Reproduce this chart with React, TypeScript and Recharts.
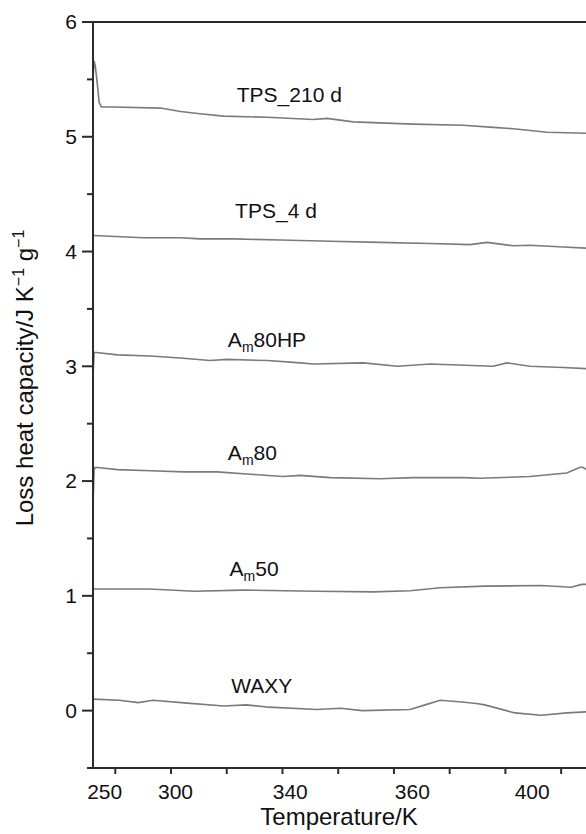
import { LineChart, Line, XAxis, YAxis, ReferenceLine, ReferenceDot } from "recharts";

const FONT = '"Liberation Sans", Arial, Helvetica, sans-serif';
const INK = "#2b2b2b";
const TRACE = "#7a7a7a";

// [temperature, loss heat capacity]
const tps210d = [
  [246.05, 5.55], [246.2, 5.66], [246.4, 5.62], [246.8, 5.45], [247.1, 5.3], [247.5, 5.26],
  [249.6, 5.26], [258.1, 5.25], [261.7, 5.22], [265.2, 5.2], [269.4, 5.18], [277.3, 5.17],
  [285.5, 5.15], [288.0, 5.16], [292.7, 5.13], [303.4, 5.11], [312.4, 5.1], [318.5, 5.08],
  [321.4, 5.07], [327.5, 5.04], [334.5, 5.03], [335, 5.03],
];
const tps4d = [
  [246.1, 4.14], [255.0, 4.12], [261.7, 4.12], [265.2, 4.11], [271.2, 4.11], [279.6, 4.1],
  [288.6, 4.09], [297.5, 4.08], [306.5, 4.07], [313.7, 4.06], [316.7, 4.08], [321.4, 4.05],
  [324.4, 4.055], [330.4, 4.04], [334.5, 4.03], [335, 4.03],
];
const am80hp = [
  [246.05, 2.96], [246.2, 3.12], [246.6, 3.12], [250.4, 3.1], [256.3, 3.09], [262.2, 3.07],
  [267.0, 3.05], [270.1, 3.06], [277.3, 3.05], [283.2, 3.03], [285.5, 3.02], [294.5, 3.03],
  [300.6, 3.0], [306.5, 3.02], [317.8, 3.0], [320.3, 3.03], [324.4, 3.0], [330.4, 2.99],
  [334.5, 2.98], [335, 2.98],
];
const am80 = [
  [246.05, 1.85], [246.2, 2.1], [246.4, 2.12], [250.4, 2.1], [256.3, 2.09], [262.2, 2.08],
  [268.3, 2.08], [274.2, 2.06], [280.1, 2.04], [283.2, 2.05], [288.6, 2.03], [297.5, 2.02],
  [303.4, 2.03], [312.4, 2.03], [315.5, 2.025], [324.4, 2.04], [331.0, 2.07], [333.4, 2.12],
  [333.9, 2.12], [334.5, 2.1], [335, 2.09],
];
const am50 = [
  [246.05, 1.06], [256.1, 1.06], [264.2, 1.04], [272.8, 1.05], [286.2, 1.04], [296.3, 1.035],
  [302.9, 1.045], [308.3, 1.07], [316.3, 1.085], [326.4, 1.09], [331.8, 1.075], [333.7, 1.1],
  [335, 1.1],
];
const waxy = [
  [246.05, 0.1], [250.7, 0.09], [254.1, 0.07], [256.8, 0.09], [262.9, 0.065], [269.5, 0.04],
  [273.5, 0.05], [277.6, 0.03], [286.2, 0.01], [290.4, 0.02], [294.3, 0.0], [302.9, 0.01],
  [305.6, 0.05], [308.3, 0.09], [312.2, 0.075], [315.1, 0.06], [316.3, 0.05], [321.7, -0.02],
  [326.4, -0.04], [331.0, -0.02], [335, -0.01],
];

const traces = [tps210d, tps4d, am80hp, am80, am50, waxy];

// curve tags; {x} is a subscript
const tagText = ["TPS_210 d", "TPS_4 d", "A{m}80HP", "A{m}80", "A{m}50", "WAXY"];
const tagT = [271.8, 271.5, 270.2, 270.2, 270.5, 270.8];
const tagV = [5.3, 4.29, 3.165, 2.18, 1.17, 0.15];

const xMarks = [250, 260, 270, 280, 290, 300, 310, 320, 330];
const xLabelPos = [248.1, 260.8, 281.4, 303.3, 324.8];
const xLabelText = ["250", "300", "340", "360", "400"];
const yTicks = [-0.5, 0, 0.5, 1, 1.5, 2, 2.5, 3, 3.5, 4, 4.5, 5, 5.5, 6];

const toPts = (arr: number[][]) => arr.map(([t, v]) => ({ t, v }));

function XTick({ x, y, payload }: any) {
  const i = xLabelPos.indexOf(payload.value);
  if (i >= 0) {
    return (
      <text x={x} y={y + 31} textAnchor="middle" fontSize={21} fontFamily={FONT} fill="#111">
        {xLabelText[i]}
      </text>
    );
  }
  return <line x1={x} x2={x} y1={y} y2={y + 6} stroke={INK} strokeWidth={2} />;
}

function YTick({ x, y, payload }: any) {
  const major = Number.isInteger(payload.value);
  return (
    <g>
      <line x1={x - (major ? 11 : 6)} x2={x} y1={y} y2={y} stroke={INK} strokeWidth={2} />
      {major && (
        <text x={x - 16} y={y} dy="0.35em" textAnchor="end" fontSize={21} fontFamily={FONT} fill="#111">
          {payload.value}
        </text>
      )}
    </g>
  );
}

function Tag({ viewBox, text }: any) {
  const parts = text.split(/\{(.*?)\}/);
  return (
    <text x={viewBox.x} y={viewBox.y} fontSize={21} fontFamily={FONT} fill="#111">
      {parts.map((p: string, i: number) =>
        i % 2 ? (
          <tspan key={i} fontSize={14} dy={5}>{p}</tspan>
        ) : (
          <tspan key={i} dy={i ? -5 : 0}>{p}</tspan>
        )
      )}
    </text>
  );
}

function YTitle({ viewBox }: any) {
  const cx = viewBox.x;
  const cy = viewBox.y + viewBox.height / 2 - 17;
  return (
    <text
      x={cx}
      y={cy}
      transform={`rotate(-90, ${cx}, ${cy})`}
      textAnchor="middle"
      fontSize={24}
      fontFamily={FONT}
      fill="#111"
    >
      Loss heat capacity/J K
      <tspan fontSize={16} dy={-9}>−1</tspan>
      <tspan dy={9}> g</tspan>
      <tspan fontSize={16} dy={-9}>−1</tspan>
    </text>
  );
}

function XTitle({ viewBox }: any) {
  return (
    <text
      x={viewBox.x + viewBox.width / 2 - 2}
      y={viewBox.y + 57}
      textAnchor="middle"
      fontSize={24}
      fontFamily={FONT}
      fill="#111"
    >
      Temperature/K
    </text>
  );
}

export default function App() {
  return (
    <div
      style={{
        position: "absolute",
        left: 0,
        top: 0,
        width: 586,
        height: 834,
        overflow: "hidden",
        background: "#fff",
      }}
    >
      <LineChart width={592} height={834} margin={{ top: 22, right: 3, bottom: 0, left: 33 }}>
        <XAxis
          type="number"
          dataKey="t"
          domain={[246, 335]}
          allowDataOverflow
          ticks={[...xMarks, ...xLabelPos]}
          interval={0}
          tick={<XTick />}
          tickLine={false}
          tickSize={0}
          tickMargin={0}
          axisLine={{ stroke: INK, strokeWidth: 2 }}
          height={66}
          label={{ content: (p: any) => <XTitle viewBox={p.viewBox} /> }}
        />
        <YAxis
          type="number"
          domain={[-0.5, 6]}
          allowDataOverflow
          ticks={yTicks}
          interval={0}
          tick={<YTick />}
          tickLine={false}
          tickSize={0}
          tickMargin={0}
          axisLine={{ stroke: INK, strokeWidth: 2 }}
          width={60}
          label={{ content: (p: any) => <YTitle viewBox={p.viewBox} /> }}
        />
        <ReferenceLine y={6} stroke={INK} strokeWidth={2} />
        {traces.map((s, i) => (
          <Line
            key={tagText[i]}
            name={tagText[i]}
            data={toPts(s)}
            dataKey="v"
            type="linear"
            stroke={TRACE}
            strokeWidth={1.6}
            dot={false}
            isAnimationActive={false}
          />
        ))}
        {tagText.map((t, i) => (
          <ReferenceDot
            key={t}
            x={tagT[i]}
            y={tagV[i]}
            r={0}
            fill="none"
            stroke="none"
            label={{ content: (p: any) => <Tag viewBox={p.viewBox} text={t} /> }}
          />
        ))}
      </LineChart>
    </div>
  );
}
